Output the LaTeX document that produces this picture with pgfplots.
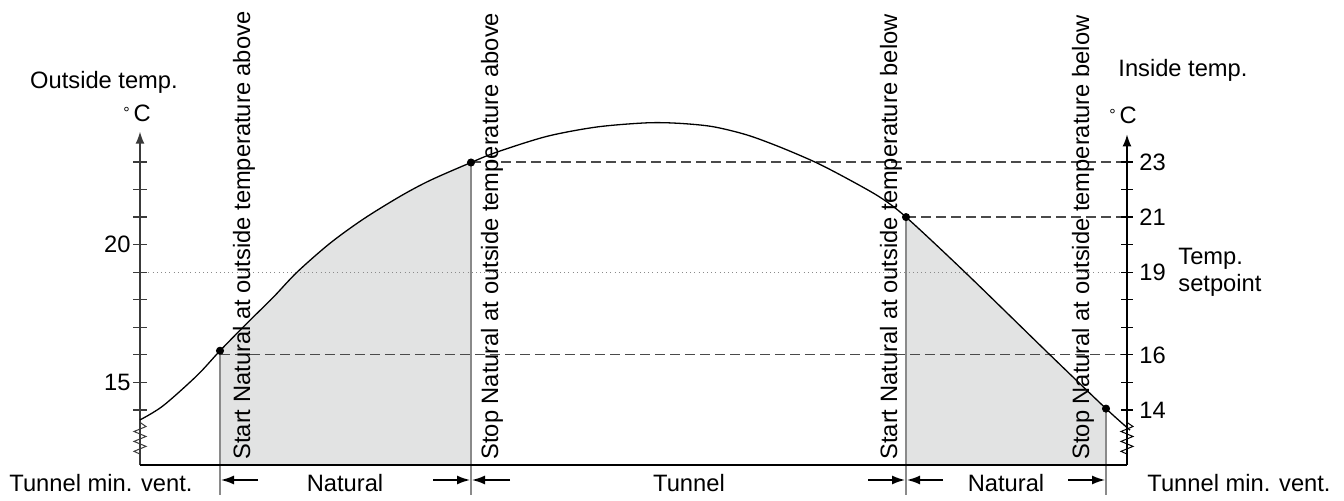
\documentclass[border=0pt]{standalone}
\usepackage{fontspec}
\setmainfont{Liberation Sans}
\usepackage{pgfplots}
\usepackage{pgfplotstable}
\pgfplotsset{compat=1.18}
\usepgfplotslibrary{fillbetween}
\usetikzlibrary{arrows.meta}

\definecolor{shade}{HTML}{E2E3E3}
\definecolor{vline}{HTML}{8A8A8A}
\definecolor{dashc}{HTML}{4A4A4A}
\definecolor{dotc}{HTML}{8A8A8A}
\definecolor{axl}{HTML}{3A3A3A}

\pgfplotstableread{
x T
140 13.64
163 14.15
197 15.25
220 16.15
247 17.15
273 18.08
297 19.00
330 20.05
363 20.92
400 21.75
430 22.33
471 22.98
497 23.36
547 23.93
597 24.27
647 24.42
680 24.40
713 24.28
747 23.98
780 23.54
816 22.98
847 22.40
880 21.72
906 21.00
965 19.00
1050 16.00
1106 14.05
1130 13.27
}\curvedata

\tikzset{lbl/.style={font=\fontsize{11.85}{13.5}\selectfont, inner sep=0pt}}

\begin{document}
\begin{tikzpicture}
\begin{axis}[scale only axis, width=672pt, height=250pt,
  xmin=0, xmax=1344, ymin=10.734, ymax=28.877,
  hide axis, clip=false]
% curve path and base for shading
\addplot[draw=none, name path=curve, smooth, tension=0.5] table[x=x,y=T]{\curvedata};
\addplot[draw=none, name path=base] coordinates {(140,12) (1127,12)};
\addplot[fill=shade, draw=none] fill between[of=curve and base, soft clip={domain=220:471}];
\addplot[fill=shade, draw=none] fill between[of=curve and base, soft clip={domain=906:1106}];

% reference lines
\addplot[dotc, line width=0.6pt, dash pattern=on 0.5pt off 1.6pt] coordinates {(140,19) (1127,19)};
\addplot[dashc, line width=0.6pt, dash pattern=on 5pt off 2.5pt] coordinates {(471,23) (1127,23)};
\addplot[dashc, line width=0.6pt, dash pattern=on 5pt off 2.5pt] coordinates {(906,21) (1127,21)};
\addplot[dashc, line width=0.6pt, dash pattern=on 5pt off 2.5pt] coordinates {(220,16) (1127,16)};

% vertical gray lines
\addplot[vline, line width=1pt] coordinates {(220,16.15) (220,10.92)};
\addplot[vline, line width=1pt] coordinates {(471,22.98) (471,10.92)};
\addplot[vline, line width=1pt] coordinates {(906,21.0) (906,10.92)};
\addplot[vline, line width=1pt] coordinates {(1106,14.05) (1106,10.92)};

% axes
\draw[axl, line width=0.75pt, -{Latex[length=6pt,width=4.5pt]}] (axis cs:140,12) -- (axis cs:140,24.1);
\draw[black, line width=0.75pt, -{Latex[length=6pt,width=4.5pt]}] (axis cs:1127,12) -- (axis cs:1127,24.0);
\draw[black, line width=0.75pt] (axis cs:140,12) -- (axis cs:1127,12);
\pgfplotsinvokeforeach{14,15,...,23}{
  \draw[axl, line width=0.6pt] (axis cs:133,#1) -- (axis cs:147,#1);
  \draw[black, line width=0.6pt] (axis cs:1121,#1) -- (axis cs:1133,#1);
}
% axis breaks
\draw[axl, line width=0.5pt] (axis cs:140,13.55) -- (axis cs:146,13.40) -- (axis cs:134,13.22) -- (axis cs:146,13.04) -- (axis cs:134,12.86) -- (axis cs:146,12.68) -- (axis cs:134,12.50) -- (axis cs:140,12.40);
\draw[black, line width=0.5pt] (axis cs:1127,13.55) -- (axis cs:1133,13.40) -- (axis cs:1121,13.22) -- (axis cs:1133,13.04) -- (axis cs:1121,12.86) -- (axis cs:1133,12.68) -- (axis cs:1121,12.50) -- (axis cs:1127,12.40);

% the curve
\addplot[black, line width=0.65pt, smooth, tension=0.5] table[x=x,y=T]{\curvedata};
\addplot[only marks, mark=*, mark size=1.8pt, black] coordinates {(220,16.15) (471,22.98) (906,21.0) (1106,14.05)};

% bottom arrows
\begin{scope}[line width=0.75pt, -{Latex[length=6.5pt,width=4.5pt]}]
\draw (axis cs:258,11.46) -- (axis cs:221,11.46);
\draw (axis cs:433,11.46) -- (axis cs:470,11.46);
\draw (axis cs:510,11.46) -- (axis cs:472,11.46);
\draw (axis cs:868,11.46) -- (axis cs:905,11.46);
\draw (axis cs:943,11.46) -- (axis cs:907,11.46);
\draw (axis cs:1068,11.46) -- (axis cs:1105,11.46);
\end{scope}

% texts
\node[lbl] at (axis cs:104,25.90) {Outside temp.};
\node[lbl, anchor=west] at (axis cs:1118,26.34) {Inside temp.};
\node[lbl] at (axis cs:137,24.76) {{\fontsize{8}{8}\selectfont\raisebox{0.35ex}{°}}\,C};
\node[lbl] at (axis cs:1123,24.70) {{\fontsize{8}{8}\selectfont\raisebox{0.35ex}{°}}\,C};
\node[lbl, anchor=east] at (axis cs:131,20) {20};
\node[lbl, anchor=east] at (axis cs:131,15) {15};
\pgfplotsinvokeforeach{23,21,19,16,14}{
  \node[lbl, anchor=west] at (axis cs:1139,#1) {#1};
}
\node[lbl, anchor=west, align=left] at (axis cs:1178,19.0) {Temp.\\setpoint};
\node[lbl] at (axis cs:101,11.35) {Tunnel min. vent.};
\node[lbl] at (axis cs:1239,11.35) {Tunnel min. vent.};
\node[lbl] at (axis cs:345,11.35) {Natural};
\node[lbl] at (axis cs:689,11.35) {Tunnel};
\node[lbl] at (axis cs:1006,11.35) {Natural};

\node[lbl, rotate=90, anchor=base west] at (axis cs:250,12.19) {Start Natural at outside temperature above};
\node[lbl, rotate=90, anchor=base west] at (axis cs:498,12.19) {Stop Natural at outside temperature above};
\node[lbl, rotate=90, anchor=base west] at (axis cs:897,12.19) {Start Natural at outside temperature below};
\node[lbl, rotate=90, anchor=base west] at (axis cs:1089,12.19) {Stop Natural at outside temperature below};
\end{axis}
\pgfresetboundingbox
\path[use as bounding box] (current axis.south west) rectangle (current axis.north east);
\end{tikzpicture}
\end{document}
